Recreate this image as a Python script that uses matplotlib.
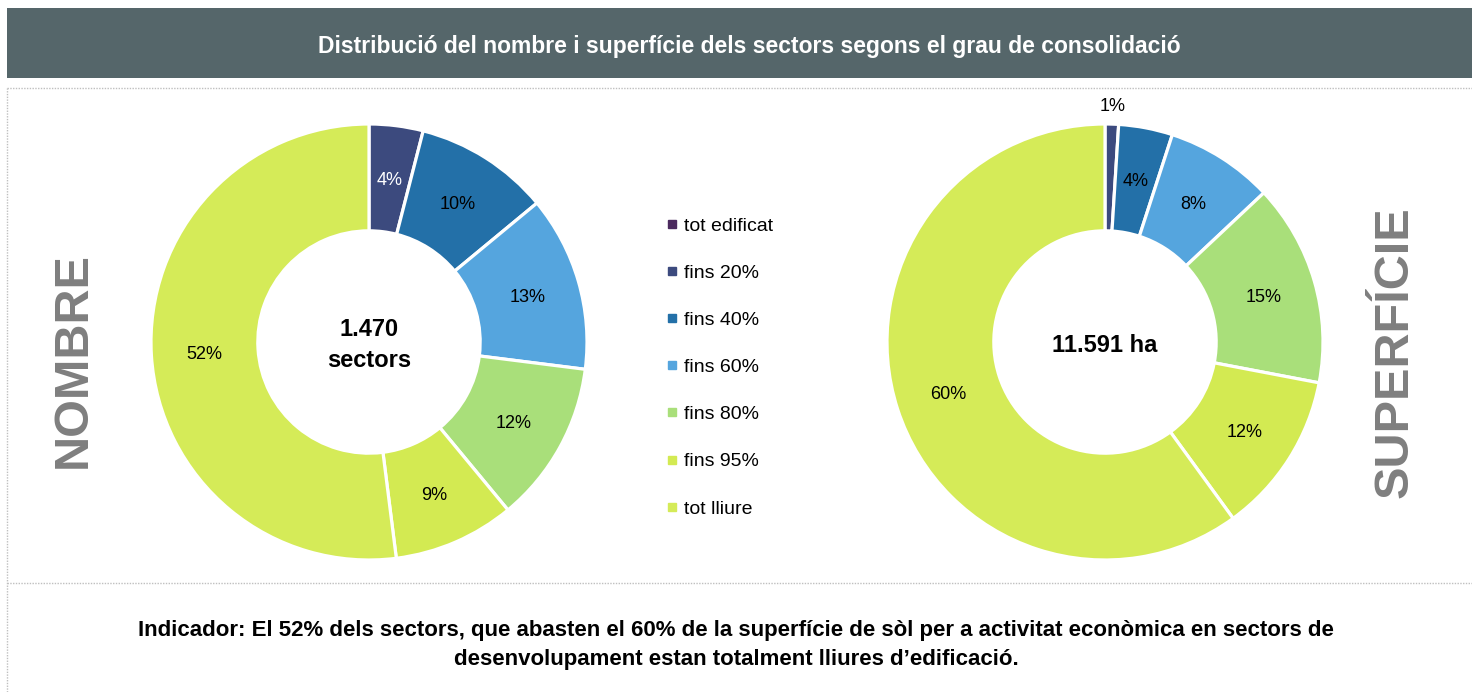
import numpy as np
import matplotlib.pyplot as plt
from matplotlib.patches import Rectangle
from matplotlib.lines import Line2D

plt.rcParams['font.family'] = ['Liberation Sans', 'DejaVu Sans']

categories = ['tot edificat', 'fins 20%', 'fins 40%', 'fins 60%', 'fins 80%', 'fins 95%', 'tot lliure']
colors = ['#4B2A5E', '#3C4A7E', '#2370A8', '#55A5DE', '#A9DF7A', '#D3EA52', '#D5EB58']
nombre = [0, 4, 10, 13, 12, 9, 52]
superficie = [0, 1, 4, 8, 15, 12, 60]

title = 'Distribució del nombre i superfície dels sectors segons el grau de consolidació'
footer = ("Indicador: El 52% dels sectors, que abasten el 60% de la superfície de sòl per a activitat econòmica en sectors de\n"
          "desenvolupament estan totalment lliures d\u2019edificació.")

W, H = 1472, 692
fig = plt.figure(figsize=(W / 100, H / 100), dpi=100)

# header bar
fig.patches.append(Rectangle((7 / W, 1 - 78 / H), 1, 70 / H, transform=fig.transFigure,
                             facecolor='#55666A', edgecolor='none'))
fig.text(749 / W, 1 - 46 / H, title, color='white', fontsize=16.5, fontweight='bold',
         ha='center', va='center')

# dotted frame
frame = dict(color='#BFBFBF', lw=1, ls=(0, (1, 1)), transform=fig.transFigure)
fig.lines.append(Line2D([7 / W, 1], [1 - 88 / H, 1 - 88 / H], **frame))
fig.lines.append(Line2D([7 / W, 7 / W], [0, 1 - 88 / H], **frame))
fig.lines.append(Line2D([7 / W, 1], [1 - 583 / H, 1 - 583 / H], **frame))


def donut(cx, cy, values, center_text):
    r_px = 218
    half = 240
    ax = fig.add_axes([(cx - half) / W, (H - cy - half) / H, 2 * half / W, 2 * half / H])
    wedges, texts, autotexts = ax.pie(
        values, colors=colors, startangle=90, counterclock=False, radius=1,
        autopct=lambda p: '' if p < 0.5 else '%.0f%%' % p, pctdistance=0.757,
        wedgeprops=dict(width=0.49, edgecolor='white', linewidth=2.3),
        textprops=dict(fontsize=13))
    for w, t, v in zip(wedges, autotexts, values):
        t.set_va('center_baseline')
        if 0 < v < 3:
            ang = np.deg2rad((w.theta1 + w.theta2) / 2)
            t.set_position((1.09 * np.cos(ang), 1.09 * np.sin(ang)))
    lim = half / r_px
    ax.set_xlim(-lim, lim)
    ax.set_ylim(-lim, lim)
    ax.text(0, -0.015, center_text, ha='center', va='center', fontsize=17,
            fontweight='bold', linespacing=1.45)
    return ax, wedges, autotexts


axl, wl, tl = donut(369, 342, nombre, '1.470\nsectors')
tl[1].set_color('white')
axr, wr, tr = donut(1105, 342, superficie, '11.591 ha')

fig.text(73 / W, 1 - 360 / H, 'NOMBRE', rotation=90, color='#7F7F7F', fontsize=35,
         fontweight='bold', ha='center', va='center')
fig.text(1395 / W, 1 - 352 / H, 'SUPERFÍCIE', rotation=90, color='#7F7F7F', fontsize=35,
         fontweight='bold', ha='center', va='center')

handles = [Line2D([], [], marker='s', ls='', color=c, markersize=5.5) for c in colors]
fig.legend(handles, categories, loc='upper left', bbox_to_anchor=(666 / W, 1 - 217 / H),
           frameon=False, fontsize=14, handlelength=0.6, handletextpad=0.35,
           labelspacing=1.52, borderpad=0, borderaxespad=0)

fig.text(736 / W, 1 - 645 / H, footer, ha='center', va='center', fontsize=16,
         fontweight='bold', linespacing=1.55)

fig.savefig('out.png', dpi=100)
